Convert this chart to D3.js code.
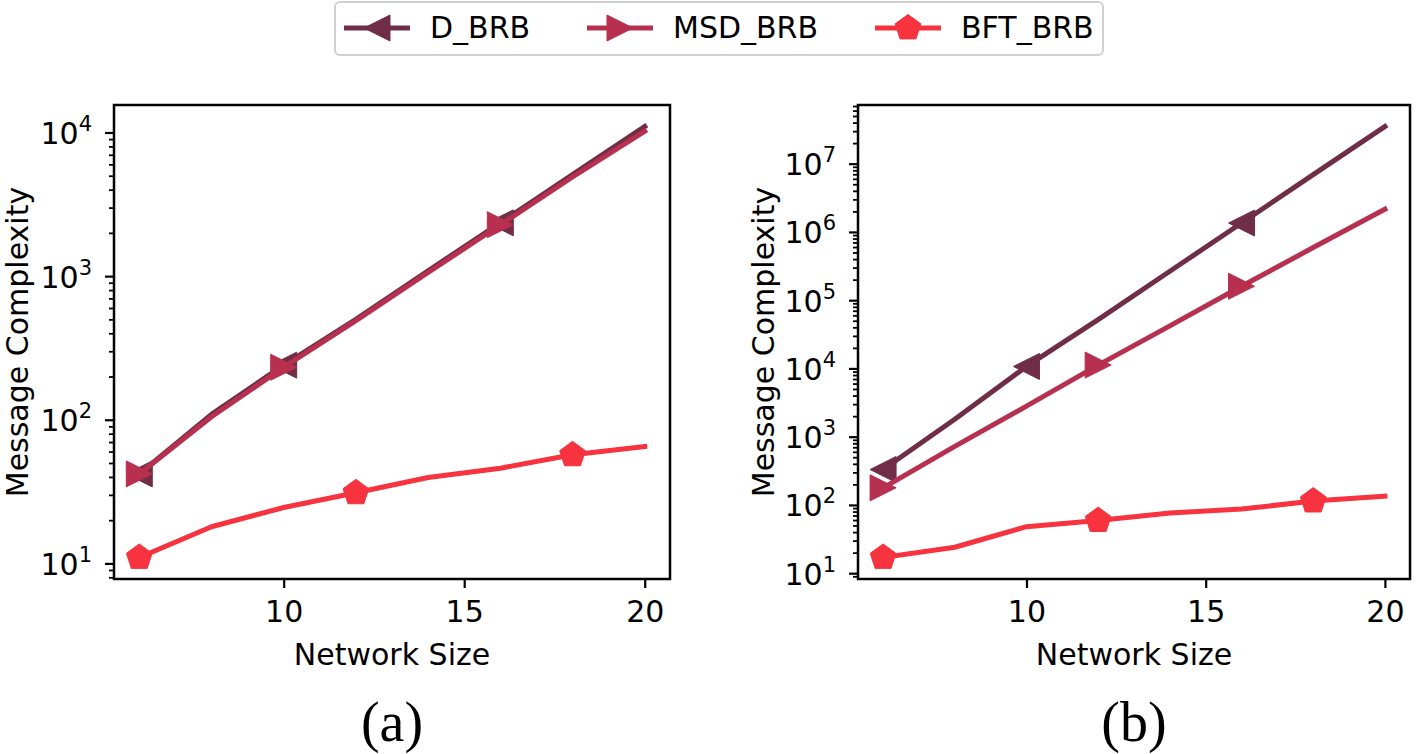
<!DOCTYPE html>
<html>
<head>
<meta charset="utf-8">
<script src="https://cdn.jsdelivr.net/npm/d3@7"></script>
<style>
  html, body { margin: 0; padding: 0; background: #fff; }
  svg { display: block; }
  text { font-family: "DejaVu Sans", sans-serif; fill: #000; }
</style>
</head>
<body>
<svg id="chart" width="1419" height="754"></svg>
<script>
// ---------------- data ----------------
const networkSizes = [6, 8, 10, 12, 14, 16, 18, 20];
const seriesNames = ["D_BRB", "MSD_BRB", "BFT_BRB"];
const seriesColors = ["#702d46", "#b8304f", "#f6333f"];
const seriesMarkers = ["triangle-left", "triangle-right", "pentagon"];

// panel (a)
const a_D_BRB   = [42, 109, 240, 500, 1090, 2350, 5100, 11000];
const a_MSD_BRB = [42, 105, 232, 490, 1060, 2280, 4900, 10200];
const a_BFT_BRB = [11, 18, 24.5, 31, 39.6, 46, 57, 65];
// panel (b)
const b_D_BRB   = [330, 1800, 10700, 52000, 265000, 1350000, 6900000, 35000000];
const b_MSD_BRB = [178, 720, 2800, 11200, 42000, 160000, 590000, 2150000];
const b_BFT_BRB = [17, 24, 48, 59, 76, 87, 114, 134];

// which points carry a marker (indices into networkSizes)
const a_markIdx = [[0, 2, 5], [0, 2, 5], [0, 3, 6]];
const b_markIdx = [[0, 2, 5], [0, 3, 5], [0, 3, 6]];

const xTicks = [10, 15, 20];
const xLabel = "Network Size";
const yLabel = "Message Complexity";
const panelLabels = ["(a)", "(b)"];

// ---------------- drawing ----------------
const svg = d3.select("#chart");
const FS = 30;

const panels = [
  { series: [a_D_BRB, a_MSD_BRB, a_BFT_BRB], marks: a_markIdx, box: { x0: 114, x1: 670, y0: 105, y1: 579 }, ylabX: 28, caption: panelLabels[0] },
  { series: [b_D_BRB, b_MSD_BRB, b_BFT_BRB], marks: b_markIdx, box: { x0: 858, x1: 1410, y0: 105, y1: 579 }, ylabX: 774, caption: panelLabels[1] }
];

function markerPath(type, size) {
  const h = size / 2;
  if (type === "triangle-left") return `M${-h},0L${h},${-h}L${h},${h}Z`;
  if (type === "triangle-right") return `M${h},0L${-h},${-h}L${-h},${h}Z`;
  const r = size / 2;
  const pts = d3.range(5).map(i => {
    const ang = -Math.PI / 2 + i * 2 * Math.PI / 5;
    return [r * Math.cos(ang), r * Math.sin(ang)];
  });
  return "M" + pts.map(p => p.join(",")).join("L") + "Z";
}
const markerSizes = { "triangle-left": 26, "triangle-right": 26, "pentagon": 27 };

panels.forEach(p => {
  const { x0, x1, y0, y1 } = p.box;
  const g = svg.append("g");

  const xmin = d3.min(networkSizes), xmax = d3.max(networkSizes);
  const xm = (xmax - xmin) * 0.05;
  const x = d3.scaleLinear().domain([xmin - xm, xmax + xm]).range([x0, x1]);

  const all = p.series.flat();
  const lmin = Math.log10(d3.min(all)), lmax = Math.log10(d3.max(all));
  const lm = (lmax - lmin) * 0.05;
  const y = d3.scaleLog().domain([Math.pow(10, lmin - lm), Math.pow(10, lmax + lm)]).range([y1, y0]);

  const line = d3.line().x((d, i) => x(networkSizes[i])).y(d => y(d));
  p.series.forEach((vals, si) => {
    g.append("path")
      .attr("d", line(vals))
      .attr("fill", "none")
      .attr("stroke", seriesColors[si])
      .attr("stroke-width", 5)
      .attr("stroke-linejoin", "round")
      .attr("stroke-linecap", "square");
    const mt = seriesMarkers[si];
    g.selectAll(null).data(p.marks[si]).enter().append("path")
      .attr("d", markerPath(mt, markerSizes[mt]))
      .attr("transform", i => `translate(${x(networkSizes[i])},${y(vals[i])})`)
      .attr("fill", seriesColors[si])
      .attr("stroke", seriesColors[si])
      .attr("stroke-width", 1);
  });

  g.append("rect")
    .attr("x", x0).attr("y", y0).attr("width", x1 - x0).attr("height", y1 - y0)
    .attr("fill", "none").attr("stroke", "#000").attr("stroke-width", 2.5);

  const xAxis = d3.axisBottom(x).tickValues(xTicks).tickSize(9).tickPadding(13).tickFormat(d3.format("d"));
  const xg = g.append("g").attr("transform", `translate(0,${y1})`).call(xAxis);
  xg.select(".domain").remove();
  xg.selectAll(".tick line").attr("stroke", "#000").attr("stroke-width", 2.2);
  xg.selectAll(".tick text").attr("font-size", FS).attr("font-family", "DejaVu Sans").attr("fill", "#000");

  const [d0, d1] = y.domain();
  const majors = [], minors = [];
  for (let e = Math.floor(Math.log10(d0)); e <= Math.ceil(Math.log10(d1)); e++) {
    for (let k = 1; k <= 9; k++) {
      const v = k * Math.pow(10, e);
      if (v < d0 || v > d1) continue;
      (k === 1 ? majors : minors).push(v);
    }
  }
  const yMinor = d3.axisLeft(y).tickValues(minors).tickSize(5).tickFormat("");
  const ymg = g.append("g").attr("transform", `translate(${x0},0)`).call(yMinor);
  ymg.select(".domain").remove();
  ymg.selectAll(".tick line").attr("stroke", "#000").attr("stroke-width", 1.8);

  const yMajor = d3.axisLeft(y).tickValues(majors).tickSize(9).tickFormat("");
  const yMg = g.append("g").attr("transform", `translate(${x0},0)`).call(yMajor);
  yMg.select(".domain").remove();
  yMg.selectAll(".tick line").attr("stroke", "#000").attr("stroke-width", 2.2);
  yMg.selectAll(".tick").each(function(v) {
    const t = d3.select(this).append("text")
      .attr("x", -22).attr("y", 11)
      .attr("text-anchor", "end")
      .attr("font-size", FS);
    t.append("tspan").text("10");
    t.append("tspan").attr("font-size", 21).attr("dy", -13).text(Math.round(Math.log10(v)));
  });

  g.append("text")
    .attr("x", (x0 + x1) / 2).attr("y", 665)
    .attr("text-anchor", "middle").attr("font-size", FS)
    .text(xLabel);
  g.append("text")
    .attr("transform", `translate(${p.ylabX},${(y0 + y1) / 2}) rotate(-90)`)
    .attr("text-anchor", "middle").attr("font-size", FS)
    .text(yLabel);

  g.append("text")
    .attr("x", (x0 + x1) / 2).attr("y", 741)
    .attr("text-anchor", "middle")
    .style("font-family", "'Liberation Serif', 'Times New Roman', serif")
    .attr("font-size", 56)
    .text(p.caption);
});

// ---------------- legend ----------------
const legend = svg.append("g");
legend.append("rect")
  .attr("x", 335).attr("y", 2).attr("width", 768).attr("height", 53)
  .attr("rx", 5).attr("ry", 5)
  .attr("fill", "#fff").attr("stroke", "#d0d0d0").attr("stroke-width", 2);
const legendX = [344, 587, 875];
seriesNames.forEach((name, i) => {
  const lx = legendX[i];
  const ly = 28;
  legend.append("line")
    .attr("x1", lx).attr("x2", lx + 66).attr("y1", ly).attr("y2", ly)
    .attr("stroke", seriesColors[i]).attr("stroke-width", 5);
  legend.append("path")
    .attr("d", markerPath(seriesMarkers[i], markerSizes[seriesMarkers[i]]))
    .attr("transform", `translate(${lx + 33},${ly})`)
    .attr("fill", seriesColors[i]).attr("stroke", seriesColors[i]);
  legend.append("text")
    .attr("x", lx + 86).attr("y", 38)
    .attr("font-size", 30)
    .text(name);
});
</script>
</body>
</html>
